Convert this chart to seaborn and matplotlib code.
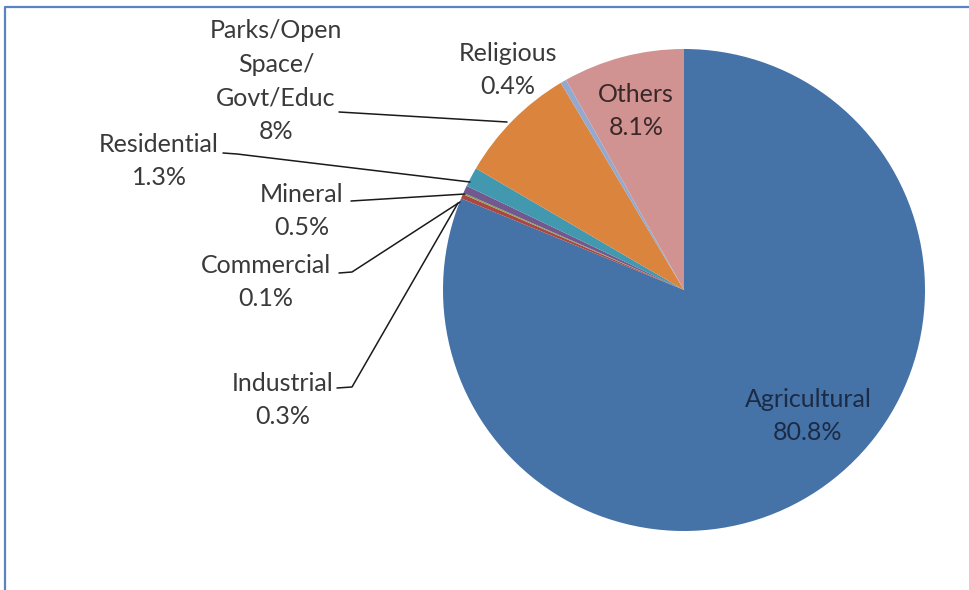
import matplotlib
matplotlib.use('Agg')
import matplotlib.pyplot as plt
import seaborn as sns

# Land use shares (%), clockwise from 12 o'clock
categories = ['Agricultural', 'Industrial', 'Commercial', 'Mineral',
              'Residential', 'Parks/Open\nSpace/\nGovt/Educ', 'Religious', 'Others']
shares = [80.8, 0.3, 0.1, 0.5, 1.3, 8.0, 0.4, 8.1]
pct_labels = ['80.8%', '0.3%', '0.1%', '0.5%', '1.3%', '8%', '0.4%', '8.1%']
colors = ['#4572A7', '#AA4643', '#89A54E', '#71588F',
          '#4198AF', '#DB843D', '#93A9CF', '#D19392']

sns.set_theme(style='white')
plt.rcParams['font.family'] = ['Lato', 'DejaVu Sans']

W, H = 969, 590
fig = plt.figure(figsize=(W / 100, H / 100), dpi=100)
ax = fig.add_axes([0, 0, 1, 1])

# pie in pixel-like coordinates (y measured upward)
cx, cy, r = 684, H - 290, 241
ax.pie(shares, colors=colors, startangle=90, counterclock=False,
       center=(cx, cy), radius=r, wedgeprops=dict(linewidth=0))
ax.set_xlim(0, W)
ax.set_ylim(0, H)
ax.set_aspect('equal')
ax.axis('off')

# label placement (pixel positions from the top-left), text colour
label_pos = {
    'Agricultural': (808, 416, '#1c2b45'),
    'Industrial': (283, 400, '#3a3a3a'),
    'Commercial': (266, 282, '#3a3a3a'),
    'Mineral': (302, 211, '#3a3a3a'),
    'Residential': (159, 161, '#3a3a3a'),
    'Parks/Open\nSpace/\nGovt/Educ': (276, 81, '#3a3a3a'),
    'Religious': (508, 70, '#3a3a3a'),
    'Others': (636, 111, '#3a2828'),
}
for cat, pct in zip(categories, pct_labels):
    x, y, c = label_pos[cat]
    ax.text(x, H - y, f'{cat}\n{pct}', ha='center', va='center',
            fontsize=18, color=c, linespacing=1.55)

# leader lines
leaders = [
    [(339, 112), (507, 122)],
    [(223, 153), (237, 154), (470, 182)],
    [(351, 201), (465, 194)],
    [(339, 273), (352, 272), (460, 202)],
    [(337, 388), (352, 387), (458, 203)],
]
for pts in leaders:
    xs = [p[0] for p in pts]
    ys = [H - p[1] for p in pts]
    ax.plot(xs, ys, color='#1a1a1a', lw=1.1)

# chart frame (only top and left edges visible)
ax.plot([5, 5, W + 5], [0, H - 7, H - 7], color='#5b83c0', lw=1.6,
        clip_on=False)

fig.savefig('out.png', dpi=100)
